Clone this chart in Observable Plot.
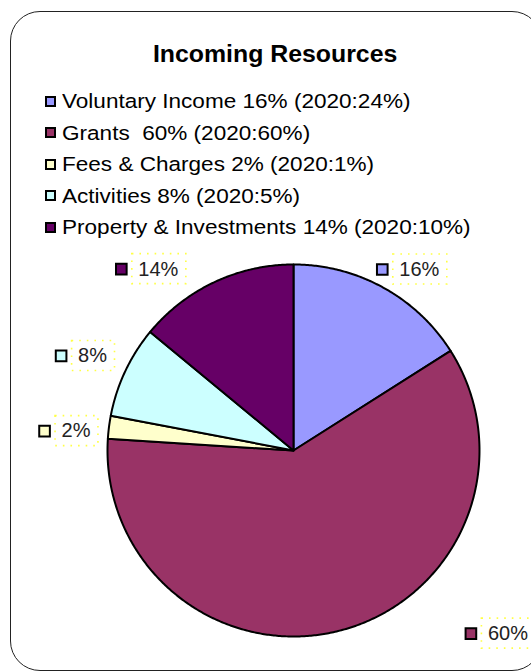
<!DOCTYPE html>
<html>
<head>
<meta charset="utf-8">
<script src="https://cdn.jsdelivr.net/npm/d3@7"></script>
<script src="https://cdn.jsdelivr.net/npm/@observablehq/plot@0.6"></script>
<style>
  html, body { margin: 0; padding: 0; background: #fff; }
  #wrap { position: relative; width: 531px; height: 672px; overflow: hidden; font-family: "Liberation Sans", Arial, sans-serif; }
  #frame { position: absolute; left: 10px; top: 11px; width: 532px; height: 660px; box-sizing: border-box; border: 1.5px solid #222; border-radius: 30px; }
  #chart { position: absolute; left: 0; top: 0; }
  #title { position: absolute; left: 0; width: 551px; top: 40px; text-align: center; font-weight: bold; font-size: 23px; line-height: 28px; color: #000; }
  #title span { display: inline-block; transform: scaleX(1.08); }
  .row { position: absolute; left: 45px; height: 24px; display: flex; align-items: center; white-space: pre; font-size: 20.5px; color: #000; }
  .key { width: 11px; height: 11px; box-sizing: border-box; border: 2px solid #000; margin-right: 6px; flex: none; }
  .row span { display: inline-block; transform: scaleX(1.10); transform-origin: left center; }
</style>
</head>
<body>
<div id="wrap">
  <div id="frame"></div>
  <div id="chart"></div>
  <div id="title"><span>Incoming Resources</span></div>
  <div id="legend"></div>
</div>
<script>
// ---- data ----
const categories = ["Voluntary Income", "Grants", "Fees & Charges", "Activities", "Property & Investments"];
const shares = [16, 60, 2, 8, 14];          // 2021 share, %
const prior = [24, 60, 1, 5, 10];           // 2020 share, %
const colors = ["#9999FF", "#993366", "#FFFFCC", "#CCFFFF", "#660066"];
const legendLabels = [
  "Voluntary Income 16% (2020:24%)",
  "Grants  60% (2020:60%)",
  "Fees & Charges 2% (2020:1%)",
  "Activities 8% (2020:5%)",
  "Property & Investments 14% (2020:10%)"
];
const dataLabels = ["16%", "60%", "2%", "8%", "14%"];

// ---- layout (Excel best-fit data label placement: angle in degrees clockwise from top, distance in radii) ----
const labelAngle = [34.8, 130.5, 275.1, 295.2, 323.3];
const labelDist = [1.185, 1.516, 1.174, 1.194, 1.216];

const W = 531, H = 672, R = 186, cx = 293, cy = 450;
const FS = 20;

// pie geometry (unit circle, clockwise from 12 o'clock, y downward)
const total = d3.sum(shares);
const pts = [];
let acc = 0;
categories.forEach((name, i) => {
  const a0 = acc / total * 2 * Math.PI;
  acc += shares[i];
  const a1 = acc / total * 2 * Math.PI;
  const n = Math.max(2, Math.ceil((a1 - a0) / (Math.PI / 360)));
  pts.push({name, color: colors[i], x: 0, y: 0});
  for (let k = 0; k <= n; k++) {
    const a = a0 + (a1 - a0) * k / n;
    pts.push({name, color: colors[i], x: Math.sin(a), y: -Math.cos(a)});
  }
  pts.push({name, color: colors[i], x: 0, y: 0});
});

const labels = categories.map((name, i) => {
  const a = labelAngle[i] * Math.PI / 180;
  const x = labelDist[i] * Math.sin(a);
  const y = -labelDist[i] * Math.cos(a);
  const tw = dataLabels[i].replace("%", "").length * 0.556 * FS + 0.889 * FS; // text width px
  return {
    name, color: colors[i], text: dataLabels[i], x, y,
    mx: x - (tw / 2 + 17) / R,
    bx1: x - (tw / 2 + 6) / R, bx2: x + (tw / 2 + 8) / R,
    by1: y - 15 / R, by2: y + 15 / R
  };
});

const chart = Plot.plot({
  width: W, height: H, margin: 0,
  x: {domain: [-cx / R, (W - cx) / R], range: [0, W], axis: null},
  y: {domain: [-cy / R, (H - cy) / R], range: [0, H], axis: null},
  color: {type: "identity"},
  style: {background: "transparent", fontFamily: "'Liberation Sans', Arial, sans-serif"},
  marks: [
    Plot.line(pts, {x: "x", y: "y", z: "name", fill: "color", stroke: "#000", strokeWidth: 2, strokeLinejoin: "round", curve: "linear"}),
    Plot.rect(labels, {x1: "bx1", x2: "bx2", y1: "by1", y2: "by2", fill: "none", stroke: "#ffff44", strokeWidth: 1.6, strokeDasharray: "1.6 6"}),
    Plot.dot(labels, {x: "mx", y: "y", symbol: "square", r: 6, fill: "color", stroke: "#000", strokeWidth: 2}),
    Plot.text(labels, {x: "x", y: "y", text: "text", fontSize: FS, fill: "#222", textAnchor: "middle"})
  ]
});
document.getElementById("chart").appendChild(chart);

// legend (HTML, above the svg)
const leg = document.getElementById("legend");
legendLabels.forEach((t, i) => {
  const row = document.createElement("div");
  row.className = "row";
  row.style.top = (89 + i * 31.6) + "px";
  const key = document.createElement("div");
  key.className = "key";
  key.style.background = colors[i];
  const s = document.createElement("span");
  s.textContent = t;
  row.appendChild(key);
  row.appendChild(s);
  leg.appendChild(row);
});
</script>
</body>
</html>
